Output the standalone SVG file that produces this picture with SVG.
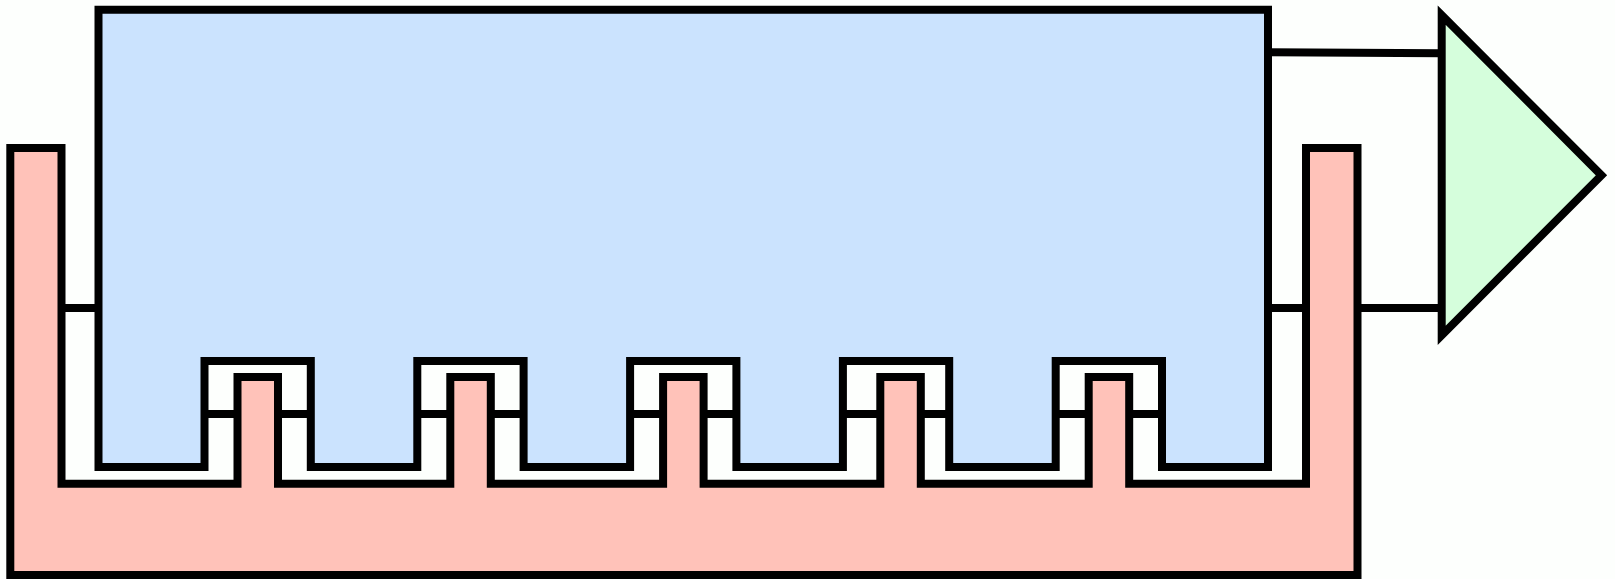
<svg xmlns="http://www.w3.org/2000/svg" width="1615" height="579" viewBox="0 0 1615 579">
<style>
.s{stroke:#000;stroke-width:8;stroke-linejoin:miter;stroke-miterlimit:10}
.w{fill:none;stroke:#000;stroke-width:8}
</style>
<rect x="0" y="0" width="1615" height="579" fill="#fdfffd"/>
<g id="comb-blue">
<path class="s" fill="#cbe3fe" d="M98.5,9.8 H1268 V467 H1162 V361 H1055.7 V467 H949.2 V361 H842.9 V467 H736.4 V361 H630.1 V467 H523.6 V361 H417.3 V467 H310.8 V361 H204.5 V467 H98.5 Z"/>
</g>
<g id="comb-red">
<path class="s" fill="#ffc2b9" d="M10.3,148 H61.5 V483.7 H237.5 V377 H278 V483.7 H450.3 V377 H490.8 V483.7 H663.1 V377 H703.6 V483.7 H880.3 V377 H920.8 V483.7 H1088.7 V377 H1129.2 V483.7 H1306 V148 H1357.5 V575 H10.3 Z"/>
</g>
<g id="amplifier">
<polygon class="s" fill="#d5fedc" points="1441.7,15.2 1601.5,175.3 1441.7,335.3"/>
</g>
<g id="connectors">
<line class="w" x1="1268" y1="52.2" x2="1441.7" y2="53.3"/>
<line class="w" x1="61.5" y1="308" x2="98.5" y2="308"/>
<line class="w" x1="1268" y1="308" x2="1306" y2="308"/>
<line class="w" x1="1357.5" y1="308" x2="1441.7" y2="308"/>
<path class="w" d="M204.5,414 H237.5 M278,414 H310.8 M417.3,414 H450.3 M490.8,414 H523.6 M630.1,414 H663.1 M703.6,414 H736.4 M842.9,414 H880.3 M920.8,414 H949.2 M1055.7,414 H1088.7 M1129.2,414 H1162"/>
</g>
</svg>
